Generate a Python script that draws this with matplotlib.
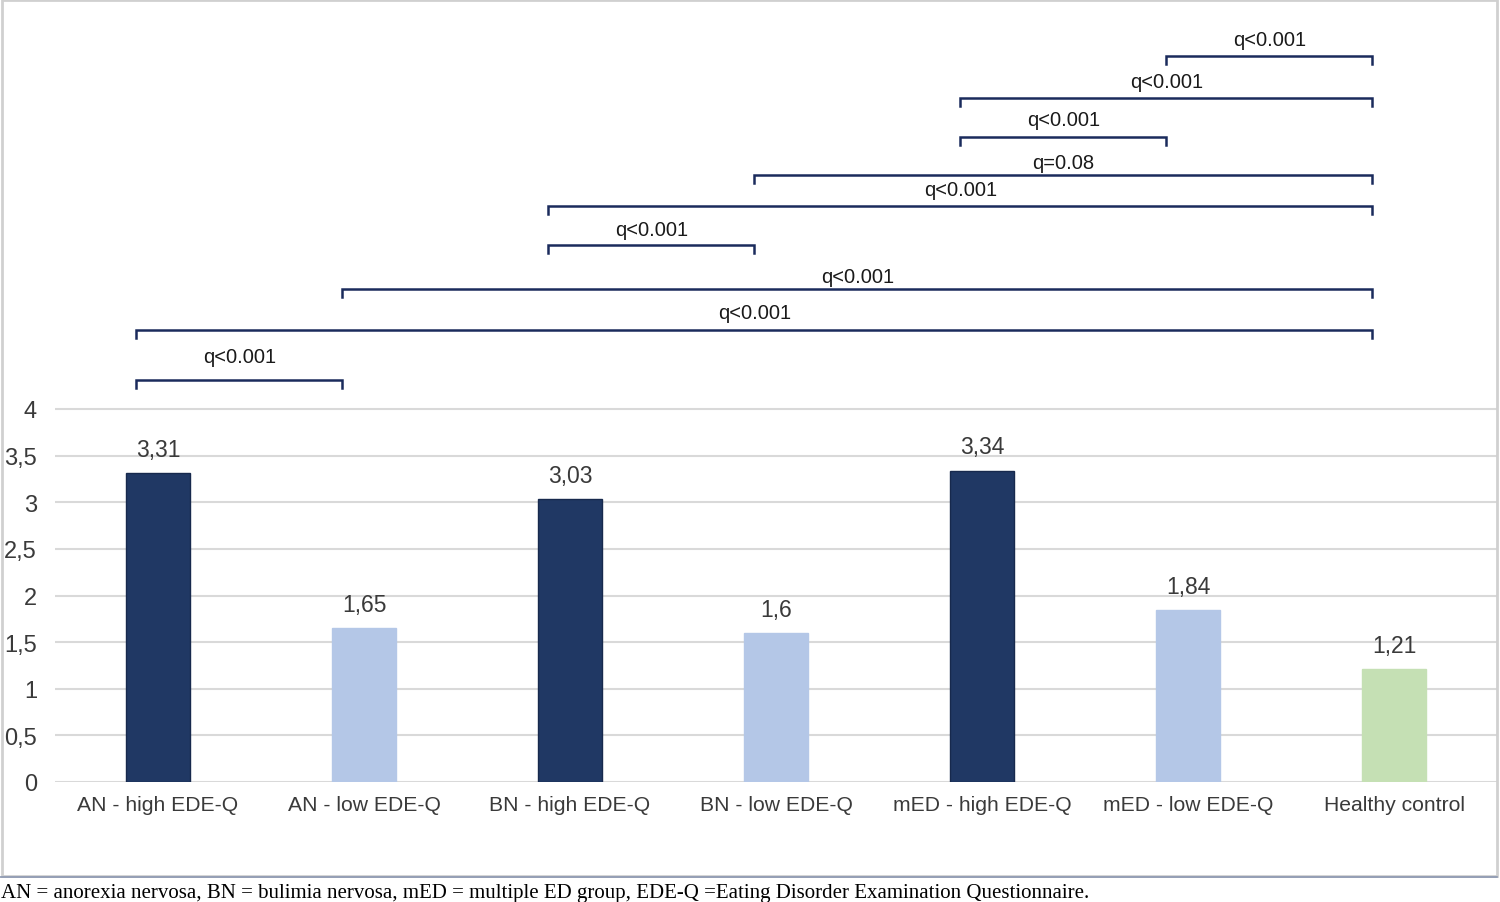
import matplotlib
matplotlib.use("Agg")
import matplotlib.pyplot as plt
from matplotlib.patches import Rectangle

# ---- data ----
groups = ["AN - high EDE-Q", "AN - low EDE-Q", "BN - high EDE-Q", "BN - low EDE-Q",
          "mED - high EDE-Q", "mED - low EDE-Q", "Healthy control"]
scores = [3.31, 1.65, 3.03, 1.60, 3.34, 1.84, 1.21]
score_labels = ["3,31", "1,65", "3,03", "1,6", "3,34", "1,84", "1,21"]
yticks = [0, 0.5, 1, 1.5, 2, 2.5, 3, 3.5, 4]
ytick_labels = ["0", "0,5", "1", "1,5", "2", "2,5", "3", "3,5", "4"]

# pairwise comparisons: (group a, group b, bracket height, label height, label)
pair_a = [0, 0, 1, 2, 2, 3, 4, 4, 5]
pair_b = [1, 6, 6, 3, 6, 6, 5, 6, 6]
bracket_y = [4.31, 4.85, 5.29, 5.76, 6.18, 6.51, 6.92, 7.34, 7.79]
label_y = [4.56, 5.04, 5.42, 5.92, 6.35, 6.64, 7.10, 7.51, 7.96]
q_labels = ["q<0.001", "q<0.001", "q<0.001", "q<0.001", "q<0.001",
            "q=0.08", "q<0.001", "q<0.001", "q<0.001"]

caption = ("AN = anorexia nervosa, BN = bulimia nervosa, mED = multiple ED group, "
           "EDE-Q =Eating Disorder Examination Questionnaire.")

dark = "#203864"
light = "#B4C7E7"
green = "#C5E0B4"
colors = [dark, light, dark, light, dark, light, green]
edges = ["#17294d", light, "#17294d", light, "#17294d", light, green]
text_col = "#3a3a3a"

plt.rcParams["font.family"] = ["Liberation Sans", "DejaVu Sans"]

fig = plt.figure(figsize=(15, 9.03), dpi=100)
ax = fig.add_axes([55 / 1500, (903 - 783) / 903, (1497 - 55) / 1500, 783 / 903])

x = list(range(len(groups)))
ax.bar(x, scores, width=0.31, color=colors, edgecolor=edges, linewidth=1, zorder=3)

for xi, v, s in zip(x, scores, score_labels):
    ax.annotate(s, (xi, v), xytext=(0, 17), textcoords="offset points",
                ha="center", va="center", fontsize=16.5, color=text_col)

ax.set_xlim(-0.5, 6.5)
ax.set_ylim(0, 783 / 93.25)
ax.set_yticks(yticks)
ax.set_yticklabels(ytick_labels)
ax.set_xticks(x)
ax.set_xticklabels(groups)
ax.tick_params(axis="both", length=0, labelcolor=text_col)
ax.tick_params(axis="y", pad=13, labelsize=17)
ax.tick_params(axis="x", pad=9.5, labelsize=15.2)
ax.grid(axis="y", color="#D9D9D9", linewidth=1.5, zorder=0)
for sp in ax.spines.values():
    sp.set_visible(False)

# significance brackets
bcol = "#1a2b5c"
tick_h = 0.09
for a, b, by, ly, lab in zip(pair_a, pair_b, bracket_y, label_y, q_labels):
    x0 = a - 0.105
    x1 = b - 0.105
    ax.plot([x0, x0, x1, x1], [by - tick_h, by, by, by - tick_h],
            color=bcol, linewidth=1.8, solid_joinstyle="miter", zorder=4)
    ax.text((x0 + x1) / 2, ly, lab, ha="center", va="center",
            fontsize=14.5, color="#1a1a1a", zorder=5)

# outer frame of the chart area
fig.patches.append(Rectangle((1.5 / 1500, (903 - 877) / 903), 1495.5 / 1500, 876 / 903,
                             transform=fig.transFigure, fill=False,
                             edgecolor="#D0D0D0", linewidth=2))
fig.add_artist(plt.Line2D([0, 1497 / 1500], [(903 - 877.5) / 903] * 2,
                          transform=fig.transFigure, color="#8a96b0", linewidth=1.2))

fig.text(1 / 1500, (903 - 894) / 903, caption, ha="left", va="center",
         fontsize=15, family=["Liberation Serif", "DejaVu Serif"], color="black")

fig.savefig("out.png", dpi=100)
